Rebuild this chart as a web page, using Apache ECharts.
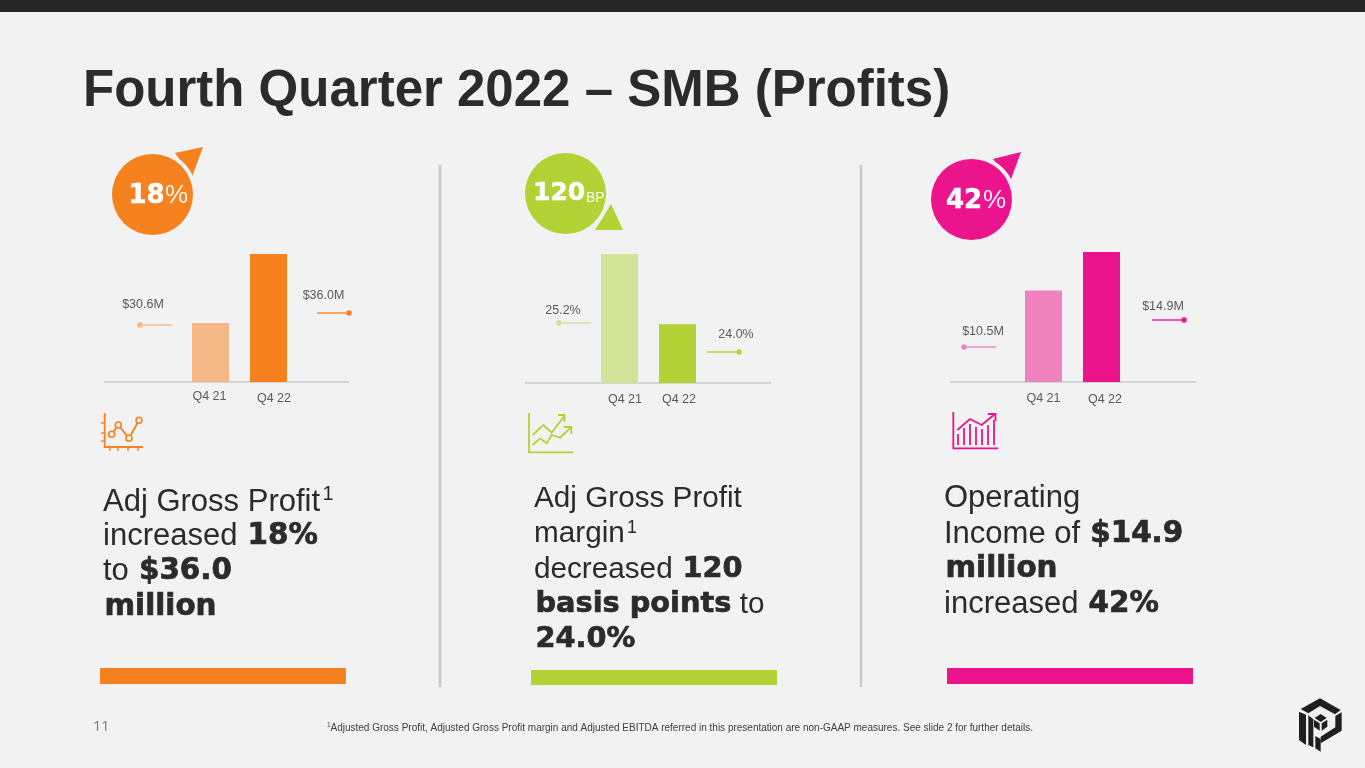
<!DOCTYPE html>
<html><head><meta charset="utf-8">
<style>html,body{margin:0;padding:0;background:#f2f2f2}#c{width:1365px;height:768px}</style>
<script src="https://cdn.jsdelivr.net/npm/echarts@6/dist/echarts.min.js"></script>
</head><body><div id="c"></div>
<script>
const categories = ['Q4 21', 'Q4 22'];
const grossProfit = [30.6, 36.0];
const grossMargin = [25.2, 24.0];
const operatingIncome = [10.5, 14.9];
const grossProfitLabels = ['$30.6M', '$36.0M'];
const grossMarginLabels = ['25.2%', '24.0%'];
const operatingIncomeLabels = ['$10.5M', '$14.9M'];
const axisRanges = [[26, 36], [23, 25.2], [0, 14.9]];

const SANS = '"Liberation Sans", Arial, sans-serif';
const HEAVY = '"DejaVu Sans", sans-serif';
const INK = '#2b2b2b';
const panels = [
  {vals: grossProfit, labels: grossProfitLabels, range: axisRanges[0], c: '#F6821F', l: '#F4B987',
   left: 181.5, top: 254, h: 128, axis: [104, 349], labelShift: [[-1, 0], [5.5, 2]],
   call: [{t: [143, 305], line: [143, 172], y: 325, dot: 140}, {t: [323.5, 296], line: [317, 346], y: 313, dot: 349}]},
  {vals: grossMargin, labels: grossMarginLabels, range: axisRanges[1], c: '#B2D235', l: '#D2E498',
   left: 590.5, top: 254, h: 129, axis: [525, 771], labelShift: [[5.5, 2], [1.5, 2]],
   call: [{t: [563, 311], line: [561, 591], y: 323, dot: 559}, {t: [736, 335], line: [707, 736], y: 352, dot: 739}]},
  {vals: operatingIncome, labels: operatingIncomeLabels, range: axisRanges[2], c: '#EC148C', l: '#F082C0',
   left: 1014.5, top: 252, h: 130, axis: [950, 1196], labelShift: [[0, 2], [3.5, 3]],
   call: [{t: [983, 332], line: [964, 996], y: 347, dot: 964}, {t: [1163, 307], line: [1152, 1181], y: 320, dot: 1184}]}
];

const grids = [], xAxes = [], yAxes = [], series = [], g = [];
panels.forEach((p, i) => {
  grids.push({left: p.left, top: p.top, width: 116, height: p.h});
  const rich = {};
  p.labelShift.forEach((s, k) => {
    rich['r' + k] = {fontFamily: SANS, fontSize: 12.5, color: '#595959',
      padding: [s[1], s[0] < 0 ? -2 * s[0] : 0, 0, s[0] > 0 ? 2 * s[0] : 0]};
  });
  xAxes.push({type: 'category', gridIndex: i, data: categories,
    axisLine: {show: false}, axisTick: {show: false},
    axisLabel: {interval: 0, margin: 8, formatter: (v, k) => `{r${k}|${v}}`, rich}});
  yAxes.push({type: 'value', gridIndex: i, min: p.range[0], max: p.range[1], show: false, splitLine: {show: false}});
  series.push({type: 'bar', xAxisIndex: i, yAxisIndex: i, barWidth: 37, silent: true, z: 3,
    data: p.vals.map((v, k) => ({value: v, itemStyle: {color: k ? p.c : p.l}}))});

  const base = p.top + p.h;
  g.push({type: 'line', z: 1, shape: {x1: p.axis[0], y1: base, x2: p.axis[1], y2: base}, style: {stroke: '#d4d4d4', lineWidth: 2}});
  p.call.forEach((a, k) => {
    const col = k ? p.c : p.l;
    g.push({type: 'text', style: {text: p.labels[k], x: a.t[0], y: a.t[1], font: `12.5px ${SANS}`, fill: '#595959', textAlign: 'center', textVerticalAlign: 'middle'}});
    g.push({type: 'line', shape: {x1: a.line[0], y1: a.y, x2: a.line[1], y2: a.y}, style: {stroke: col, lineWidth: 1.4}});
    g.push({type: 'circle', shape: {cx: a.dot, cy: a.y, r: 2.8}, style: {fill: col}});
  });
});

// page furniture
g.push({type: 'rect', shape: {x: 0, y: 0, width: 1365, height: 12}, style: {fill: '#262626'}});
g.push({type: 'text', style: {text: 'Fourth Quarter 2022 – SMB (Profits)', x: 83, y: 92, font: `bold 51px ${SANS}`, fill: INK, textVerticalAlign: 'middle'}});
[440, 861].forEach(x => g.push({type: 'line', shape: {x1: x, y1: 165, x2: x, y2: 687}, style: {stroke: '#c9c9c9', lineWidth: 2.5}}));
[[100, 668, 246, 16, '#F6821F'], [531, 670, 246, 15, '#B2D235'], [947, 668, 246, 16, '#EC148C']].forEach(r =>
  g.push({type: 'rect', shape: {x: r[0], y: r[1], width: r[2], height: r[3]}, style: {fill: r[4]}}));

// badges
const poly = (pts, fill) => ({type: 'polygon', shape: {points: pts}, style: {fill}});
const badge = (cx, cy, col, tri, big, bigX, bigSize, small, smallX, smallSize, ty, sy) => {
  g.push(poly(tri, col));
  g.push({type: 'circle', shape: {cx, cy, r: 44.5}, style: {fill: '#f2f2f2'}});
  g.push({type: 'circle', shape: {cx, cy, r: 40.5}, style: {fill: col}});
  g.push({type: 'text', style: {text: big, x: bigX, y: ty, font: `bold ${bigSize}px ${HEAVY}`, fill: '#fff', stroke: '#fff', lineWidth: 0.5, textVerticalAlign: 'middle'}});
  g.push({type: 'text', style: {text: small, x: smallX, y: sy, font: `${smallSize}px ${SANS}`, fill: '#fff', textVerticalAlign: 'middle', opacity: 0.92}});
};
badge(152.5, 194.5, '#F6821F', [[175, 153], [203, 147], [192, 177]], '18', 128.5, 26, '%', 165, 26, 196, 196);
badge(565.5, 193.5, '#B2D235', [[595, 230], [623, 230], [611, 204]], '120', 533, 25, 'BP', 586, 14, 193, 198);
badge(971.5, 199.5, '#EC148C', [[993, 159], [1021, 152], [1010, 182]], '42', 946, 26, '%', 983, 26, 201, 201);

// body copy
const body = (x, rSize, hSize, lines) => lines.forEach(l => {
  g.push({type: 'text', style: {text: l[1], x, y: l[0], textVerticalAlign: 'middle',
    rich: {r: {fontFamily: 'Liberation Sans', fontSize: rSize, fill: INK},
           h: {fontFamily: 'DejaVu Sans', fontWeight: 'bold', fontSize: hSize, fill: INK, stroke: INK, lineWidth: 0.7, padding: [0, 0, 0, 1.5]}}}});
});
body(103, 31, 29.4, [[502, '{r|Adj Gross Profit}'], [536, '{r|increased }{h|18%}'], [571, '{r|to }{h|$36.0}'], [607, '{h|million}']]);
body(534, 29.7, 28.8, [[499, '{r|Adj Gross Profit}'], [534, '{r|margin}'], [570, '{r|decreased }{h|120}'], [605, '{h|basis points}{r| to}'], [640, '{h|24.0%}']]);
body(944, 31, 29.4, [[498, '{r|Operating}'], [534, '{r|Income of }{h|$14.9}'], [569, '{h|million}'], [604, '{r|increased }{h|42%}']]);
[[322.5, 494, 20], [627, 528, 18]].forEach(s => g.push({type: 'text', style: {text: '1', x: s[0], y: s[1], font: `${s[2]}px ${SANS}`, fill: INK, textVerticalAlign: 'middle'}}));

// icons
const pl = (pts, col, w) => ({type: 'polyline', shape: {points: pts}, style: {stroke: col, lineWidth: w || 1.8, fill: 'none'}});
const O = '#F6821F', G = '#B2D235', P = '#EC148C';
g.push(pl([[104.7, 413], [104.7, 447], [143, 447]], O));
[[423], [433], [441]].forEach(y => g.push(pl([[101, y[0]], [104.7, y[0]]], O, 1.4)));
[110, 118, 128, 138].forEach(x => g.push(pl([[x, 447], [x, 451]], O, 1.4)));
g.push(pl([[111.7, 434.3], [118.3, 425], [129, 438.3], [139, 420.3]], O));
[[111.7, 434.3], [118.3, 425], [129, 438.3], [139, 420.3]].forEach(c =>
  g.push({type: 'circle', shape: {cx: c[0], cy: c[1], r: 3}, style: {fill: '#f2f2f2', stroke: O, lineWidth: 1.6}}));

g.push(pl([[529, 413], [529, 452.3], [573.3, 452.3]], G));
g.push(pl([[532.7, 435], [543.3, 425], [551.7, 432.7], [564.3, 416]], G));
g.push(pl([[558, 415], [564.5, 415], [564.5, 422]], G));
g.push(pl([[532.7, 445], [540, 438.3], [546.7, 443.3], [551.7, 435], [560, 437.7], [571, 427.3]], G));
g.push(pl([[563.5, 427], [571.3, 427], [571.3, 434]], G));

g.push(pl([[953.3, 412], [953.3, 448.3], [998.3, 448.3]], P));
[[958, 434], [964, 428], [970, 424], [976, 427], [982, 429], [988, 425], [994, 420]].forEach(b =>
  g.push(pl([[b[0], b[1]], [b[0], 445]], P, 1.8)));
g.push(pl([[957.3, 430], [970, 419], [981.7, 425], [995, 414]], P));
g.push(pl([[988, 414], [995.5, 414], [995.5, 421]], P));

// logo
const L = pts => pts.map(q => [1280 + q[0] / 3, 690 + q[1] / 3]);
const K = '#1f1f1f';
[[[62, 57], [120, 25], [182, 60], [165, 73], [120, 48], [85, 70]],
 [[185, 67], [185, 122], [122, 160], [122, 140], [166, 112], [166, 78]],
 [[57, 65], [78, 74], [78, 165], [57, 150]],
 [[85, 76], [100, 88], [100, 172], [85, 165]],
 [[122, 147], [122, 185], [106, 175], [106, 138]],
 [[122, 72], [140, 84], [122, 96], [104, 84]],
 [[102, 89], [119, 100], [119, 122], [102, 110]],
 [[125, 100], [142, 89], [142, 110], [125, 122]]
].forEach(s => g.push(poly(L(s), K)));

// footer
g.push({type: 'text', style: {text: '11', x: 93, y: 727, font: `14.5px "Open Sans", sans-serif`, fill: '#777777', textVerticalAlign: 'middle'}});
g.push({type: 'text', style: {text: '1', x: 327, y: 725, font: `6.5px ${SANS}`, fill: '#404040', textVerticalAlign: 'middle'}});
g.push({type: 'text', style: {text: 'Adjusted Gross Profit, Adjusted Gross Profit margin and Adjusted EBITDA referred in this presentation are non-GAAP measures. See slide 2 for further details.', x: 330.5, y: 728, font: `10px ${SANS}`, fill: '#404040', textVerticalAlign: 'middle'}});

const chart = echarts.init(document.getElementById('c'), null, {renderer: 'canvas'});
chart.setOption({animation: false, backgroundColor: '#f2f2f2', grid: grids, xAxis: xAxes, yAxis: yAxes, series, graphic: {elements: g}});
</script></body></html>
